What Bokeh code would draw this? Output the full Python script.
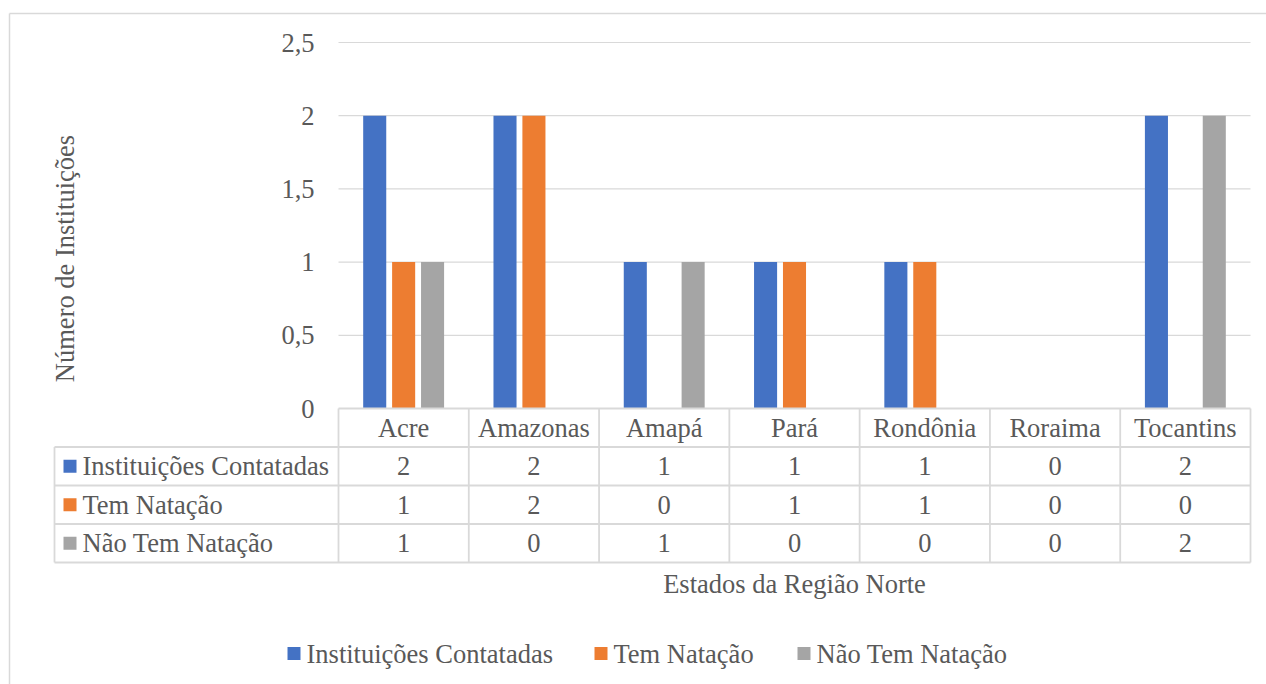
import math
from bokeh.plotting import figure
from bokeh.models import Range1d, ColumnDataSource
from bokeh.core.properties import value
from bokeh.embed import file_html
from bokeh.resources import INLINE

# ---------------- data ----------------
states = ["Acre", "Amazonas", "Amapá", "Pará", "Rondônia", "Roraima", "Tocantins"]
series_names = ["Instituições Contatadas", "Tem Natação", "Não Tem Natação"]
contatadas = [2, 2, 1, 1, 1, 0, 2]
tem_natacao = [1, 2, 0, 1, 1, 0, 0]
nao_tem_natacao = [1, 0, 1, 0, 0, 0, 2]
y_ticks = [0, 0.5, 1, 1.5, 2, 2.5]
y_tick_labels = ["0", "0,5", "1", "1,5", "2", "2,5"]
y_title = "Número de Instituições"
x_title = "Estados da Região Norte"

series_values = [contatadas, tem_natacao, nao_tem_natacao]
colors = ["#4472C4", "#ED7D31", "#A5A5A5"]

# ---------------- layout ----------------
W, H = 1266, 684
PX0, PX1 = 338, 1250          # plot area left/right (px)
PY0, PYTOP = 408, 42          # pixel of y=0 and y=2.5
n = len(states)
sx = (PX1 - PX0) / n
sy = (PY0 - PYTOP) / 2.5

def X(px):
    return (px - PX0) / sx

def Y(py):
    return (PY0 - py) / sy

FONT = value("'Liberation Serif', 'Times New Roman', serif")
TXT = "#595959"
GRID = "#D9D9D9"
FS = "26.5px"

p = figure(width=W, height=H, output_backend="svg", toolbar_location=None,
           x_range=Range1d(X(0), X(W)), y_range=Range1d(Y(H), Y(0)),
           min_border=0, min_border_left=0, min_border_right=0,
           min_border_top=0, min_border_bottom=0)
p.axis.visible = False
p.grid.visible = False
p.outline_line_color = None
p.background_fill_color = "white"
p.border_fill_color = "white"

# outer chart border
p.segment(x0=[X(9), X(9)], y0=[Y(13), Y(13)], x1=[X(W + 5), X(9)], y1=[Y(13), Y(H + 5)],
          line_color=GRID, line_width=1.5)

# gridlines
gy = [t for t in y_ticks if t > 0]
p.segment(x0=[0] * len(gy), x1=[n] * len(gy), y0=gy, y1=gy, line_color=GRID, line_width=1.2)

# y tick labels
p.text(x=[X(314)] * len(y_ticks), y=y_ticks, text=y_tick_labels, text_font=FONT,
       text_font_size=FS, text_color=TXT, text_align="right", text_baseline="middle")

# bars
offsets = [-0.222, 0.0, 0.222]
bw = 0.177
for vals, off, col in zip(series_values, offsets, colors):
    src = ColumnDataSource(dict(x=[i + 0.5 + off for i in range(n)], top=vals))
    p.vbar(x="x", top="top", bottom=0, width=bw, source=src, fill_color=col, line_color=None)

# data table
row_px = [408, 446.5, 485, 523.5, 562]
row_y = [Y(v) for v in row_px]
left_x = X(54)
hx0 = [0] + [left_x] * 4
hx1 = [n] * 5
p.segment(x0=hx0, x1=hx1, y0=row_y, y1=row_y, line_color=GRID, line_width=1.8)
p.segment(x0=list(range(n + 1)), x1=list(range(n + 1)), y0=[row_y[0]] * (n + 1),
          y1=[row_y[-1]] * (n + 1), line_color=GRID, line_width=1.8)
p.segment(x0=[left_x], x1=[left_x], y0=[row_y[1]], y1=[row_y[-1]], line_color=GRID, line_width=1.8)

hy = (row_y[0] + row_y[1]) / 2
p.text(x=[i + 0.5 for i in range(n)], y=[hy] * n, text=states, text_font=FONT,
       text_font_size=FS, text_color=TXT, text_align="center", text_baseline="middle")

for r, (vals, col, name) in enumerate(zip(series_values, colors, series_names)):
    cy = (row_y[r + 1] + row_y[r + 2]) / 2
    p.text(x=[i + 0.5 for i in range(n)], y=[cy] * n, text=[str(v) for v in vals],
           text_font=FONT, text_font_size=FS, text_color=TXT, text_align="center",
           text_baseline="middle")
    p.scatter(x=[X(69.5)], y=[cy], marker="square", size=13, fill_color=col, line_color=None)
    p.text(x=[X(82)], y=[cy], text=[name], text_font=FONT, text_font_size=FS,
           text_color=TXT, text_align="left", text_baseline="middle")

p.text(x=[X(64)], y=[Y(258)], text=[y_title], angle=math.pi / 2, text_font=FONT,
       text_font_size=FS, text_color=TXT, text_align="center", text_baseline="middle")
p.text(x=[n / 2], y=[Y(583)], text=[x_title], text_font=FONT, text_font_size=FS,
       text_color=TXT, text_align="center", text_baseline="middle")

lg_sq = [293.5, 600.5, 803.5]
lg_tx = [306, 613, 816]
ly = Y(653)
for sqp, txp, col, name in zip(lg_sq, lg_tx, colors, series_names):
    p.scatter(x=[X(sqp)], y=[ly], marker="square", size=13, fill_color=col, line_color=None)
    p.text(x=[X(txp)], y=[ly], text=[name], text_font=FONT, text_font_size=FS,
           text_color=TXT, text_align="left", text_baseline="middle")

open("out.html", "w").write(file_html(p, INLINE))
